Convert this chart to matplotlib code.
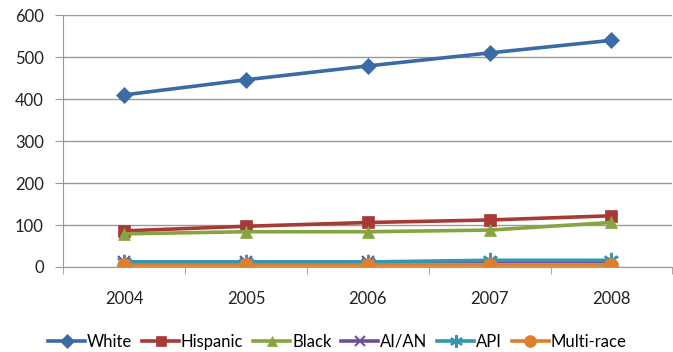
import matplotlib
matplotlib.use("Agg")
import matplotlib.pyplot as plt
import numpy as np

plt.rcParams['font.family'] = ['Lato', 'DejaVu Sans']

years = ['2004', '2005', '2006', '2007', '2008']
white = [410, 446, 479, 510, 540]
hispanic = [86, 97, 106, 112, 122]
black = [79, 84, 84, 88, 106]
aian = [12, 12, 12, 13, 13]
api = [12, 12, 12, 16, 16]
multi = [5, 5, 5, 5, 5]

series = [
    ('White', white, '#3A6BA6', 'D', 8),
    ('Hispanic', hispanic, '#A83A36', 's', 9),
    ('Black', black, '#86A540', '^', 9),
    ('AI/AN', aian, '#6E4F95', 'x', 9),
    ('API', api, '#3596AE', (6, 2, 0), 11),
    ('Multi-race', multi, '#E07F2B', 'o', 10),
]

fig = plt.figure(figsize=(6.73, 3.52), dpi=100)
ax = fig.add_axes([0.094, 0.2415, 0.905, 0.7155])

x = np.arange(len(years))
for name, vals, col, mk, ms in series:
    ax.plot(x, vals, color=col, linewidth=2.6, marker=mk, markersize=ms,
            markeredgewidth=1.5 if mk in ('x', (6, 2, 0)) else 0.5,
            markeredgecolor=col, label=name)

ax.set_xlim(-0.5, len(years) - 0.5)
ax.set_ylim(0, 600)
ax.set_yticks(range(0, 601, 100))
ax.set_xticks(x)
ax.set_xticklabels(years)
ax.set_xticks(np.arange(-0.5, len(years), 1), minor=True)
ax.tick_params(axis='x', which='major', length=0, pad=17, labelsize=12, colors='#222222')
ax.tick_params(axis='x', which='minor', length=5, color='#999999', direction='out')
ax.tick_params(axis='y', length=6, color='#999999', labelsize=12, labelcolor='#222222', pad=8)
ax.yaxis.grid(True, color='#999999', linewidth=1)
ax.set_axisbelow(True)
for s in ['top', 'right']:
    ax.spines[s].set_visible(False)
ax.spines['left'].set_color('#999999')
ax.spines['bottom'].set_color('#999999')

ax.legend(loc='upper center', bbox_to_anchor=(0.45, -0.205), ncol=6, frameon=False,
          fontsize=12, handlelength=2.2, handletextpad=0.12, columnspacing=0.6,
          markerscale=0.85)

fig.savefig('out.png', dpi=100)
